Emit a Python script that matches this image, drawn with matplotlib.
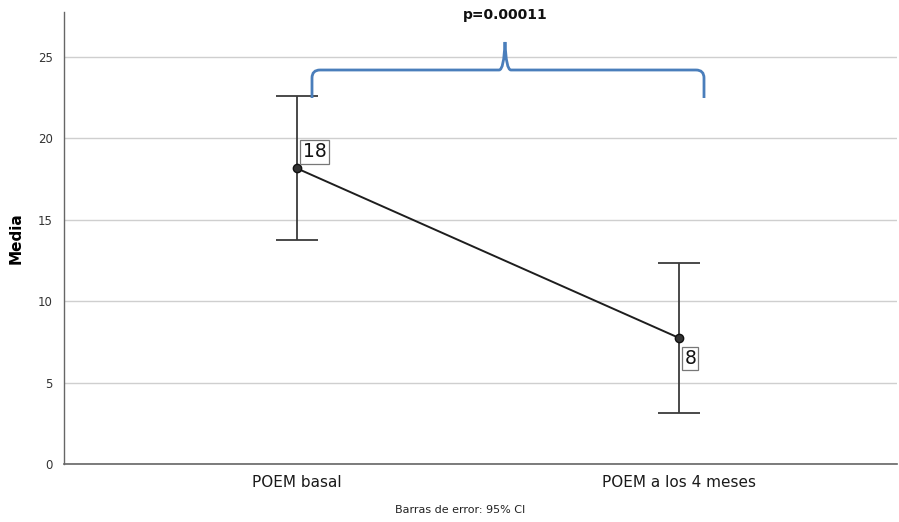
import matplotlib.pyplot as plt
from matplotlib.path import Path
from matplotlib.patches import PathPatch

# data
categories = ["POEM basal", "POEM a los 4 meses"]
means = [18.15, 7.75]
ci_low = [13.75, 3.15]
ci_high = [22.6, 12.35]
point_labels = ["18", "8"]
p_text = "p=0.00011"

plt.rcParams['font.family'] = ['DejaVu Sans']

fig = plt.figure(figsize=(8.99, 5.22), dpi=100)
ax = fig.add_axes([64 / 899, 1 - 464 / 522, 833 / 899, 452 / 522])

x = list(range(len(categories)))
yerr = [[m - lo for m, lo in zip(means, ci_low)],
        [hi - m for m, hi in zip(means, ci_high)]]

ax.errorbar(x, means, yerr=yerr, fmt="none", ecolor="#3a3a3a",
            elinewidth=1.3, capsize=14.8, capthick=1.3, zorder=3)
ax.plot(x, means, "-", color="#1e1e1e", linewidth=1.4, zorder=4)
ax.plot(x, means, "o", color="#333333", markersize=6,
        markeredgecolor="#111111", zorder=5)

# value labels in boxes
offsets = [(4, 12), (4, -15)]
for xi, m, lab, off in zip(x, means, point_labels, offsets):
    ax.annotate(lab, (xi, m), xytext=off, textcoords="offset points",
                fontsize=13.5, ha="left", va="center", color="#111111",
                bbox=dict(boxstyle="square,pad=0.12", fc="white",
                          ec="#777777", lw=0.9), zorder=6)

ax.set_xlim(-0.611, 1.572)
ax.set_ylim(0, 27.76)
ax.set_yticks([0, 5, 10, 15, 20, 25])
ax.set_xticks(x)
ax.set_xticklabels(categories, fontsize=11, color="#1a1a1a")
ax.tick_params(axis="y", length=0, pad=8, labelsize=8.5, labelcolor="#333333")
ax.tick_params(axis="x", length=0, pad=8)
ax.yaxis.grid(True, color="#cfcfcf", linewidth=1.0)
ax.set_axisbelow(True)
for s in ["top", "right"]:
    ax.spines[s].set_visible(False)
ax.spines["left"].set_color("#666666")
ax.spines["bottom"].set_color("#666666")
ax.spines["left"].set_linewidth(1.0)
ax.spines["bottom"].set_linewidth(1.2)
ax.set_ylabel("Media", fontsize=11, fontweight="bold", labelpad=10)

# curly bracket above the two groups (figure pixel coords -> fraction)
W, H = 899, 522
def fp(px, py):
    return (px / W, 1 - py / H)

x0, x1, xm = 312, 704, 505
yb, yt, ye = 70, 42, 98
r = 8
verts = [fp(x0, ye), fp(x0, yb + r), fp(x0, yb), fp(x0 + r, yb),
         fp(xm - 6, yb), fp(xm - 1, yb), fp(xm, yt),
         fp(xm + 1, yb), fp(xm + 6, yb),
         fp(x1 - r, yb), fp(x1, yb), fp(x1, yb + r), fp(x1, ye)]
codes = [Path.MOVETO, Path.LINETO, Path.CURVE3, Path.CURVE3,
         Path.LINETO, Path.CURVE3, Path.CURVE3,
         Path.CURVE3, Path.CURVE3,
         Path.LINETO, Path.CURVE3, Path.CURVE3, Path.LINETO]
brace = PathPatch(Path(verts, codes), transform=fig.transFigure,
                  fc="none", ec="#4a7ebb", lw=2.0)
fig.patches.append(brace)

fig.text(xm / W, 1 - 15 / H, p_text, ha="center", va="center",
         fontsize=10, fontweight="bold", color="#111111")
fig.text(460 / W, 1 - 510 / H, "Barras de error: 95% CI", ha="center",
         va="center", fontsize=8, color="#222222")

fig.savefig("out.png", dpi=100)
